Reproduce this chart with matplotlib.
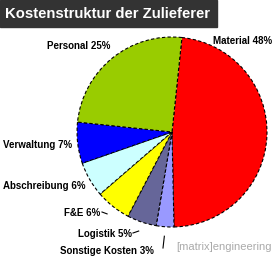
import matplotlib.pyplot as plt
import numpy as np

plt.rcParams['font.family'] = ['Liberation Sans', 'DejaVu Sans']

title = "Kostenstruktur der Zulieferer"
labels = ["Material", "Sonstige Kosten", "Logistik", "F&E", "Abschreibung", "Verwaltung", "Personal"]
shares = [48, 3, 5, 6, 6, 7, 25]
colors = ["#ff0000", "#9999ff", "#666699", "#ffff00", "#ccffff", "#0000ff", "#99cc00"]

W, H = 274, 257
fig = plt.figure(figsize=(W / 100, H / 100), dpi=100)
ax = fig.add_axes([0, 0, 1, 1])

def py(y):
    # pixel row from top -> data y
    return H - y

cx, cy, r = 172, 132, 95
wedges, _ = ax.pie(shares, colors=colors, startangle=84, counterclock=False,
                   center=(cx, py(cy)), radius=r, frame=True,
                   wedgeprops=dict(edgecolor='black', linewidth=0.8, linestyle=(0, (3, 2))))
ax.set_xlim(0, W)
ax.set_ylim(0, H)
ax.set_aspect('equal')
ax.axis('off')

# label positions (left edge, vertical centre) in pixels
label_pos = {
    "Material": (213, 41),
    "Personal": (47, 46),
    "Verwaltung": (3, 145),
    "Abschreibung": (3, 186),
    "F&E": (64, 213),
    "Logistik": (78, 234),
    "Sonstige Kosten": (60, 251),
}
# leader lines: label end point in pixels
leaders = {
    "F&E": (102, 212),
    "Logistik": (133, 233),
    "Sonstige Kosten": (163, 248),
}

for w, lab, s in zip(wedges, labels, shares):
    x, y = label_pos[lab]
    ax.text(x, py(y), f"{lab} {s}%", fontsize=7, fontweight='bold',
            ha='left', va='center', color='black')
    if lab in leaders:
        mid = np.deg2rad((w.theta1 + w.theta2) / 2)
        ex = cx + r * 1.1 * np.cos(mid)
        ey = py(cy) + r * 1.1 * np.sin(mid)
        lx, ly = leaders[lab]
        ax.plot([lx, ex], [py(ly), ey], color='black', linewidth=0.8)

# title box
fig.patches.append(plt.Rectangle((0, 1 - 27 / H), 217 / W, 27 / H,
                                 transform=fig.transFigure, color='#333333', zorder=0))
fig.text(5 / W, 1 - 14 / H, title, color='white', fontsize=10.7, fontweight='bold',
         ha='left', va='center')

fig.text(272 / W, 1 - 247 / H, "[matrix]engineering", color='#aaaaaa', fontsize=8,
         ha='right', va='center')

fig.savefig("out.png", dpi=100, facecolor='white')
